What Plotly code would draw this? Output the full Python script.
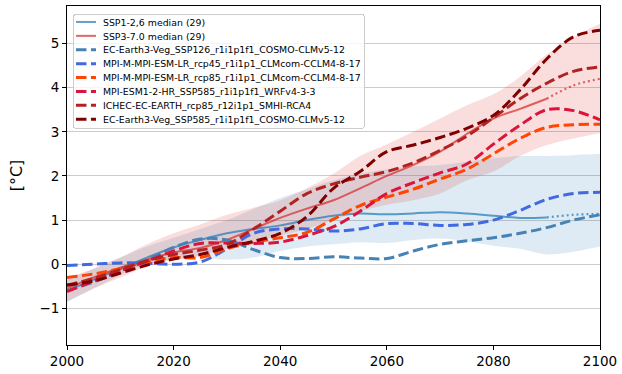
import plotly.graph_objects as go

years = list(range(2000, 2101, 5))

# Ensemble medians
ssp126_median = [-0.6, -0.35, -0.1, 0.15, 0.38, 0.55, 0.7, 0.8, 0.88, 1.0, 1.1, 1.15, 1.13, 1.15, 1.18, 1.15, 1.1, 1.05, 1.06, 1.12, 1.14]
ssp370_median = [-0.55, -0.3, -0.08, 0.1, 0.27, 0.37, 0.55, 0.8, 1.05, 1.26, 1.45, 1.72, 2.0, 2.25, 2.55, 2.95, 3.3, 3.52, 3.75, 4.05, 4.2]
median_cut_year = 2090

# Ensemble ranges
ssp126_low = [-0.85, -0.55, -0.25, 0.0, 0.12, 0.15, 0.1, 0.15, 0.3, 0.4, 0.45, 0.5, 0.48, 0.55, 0.58, 0.52, 0.42, 0.35, 0.22, 0.28, 0.4]
ssp126_high = [-0.35, -0.1, 0.15, 0.4, 0.6, 0.8, 1.0, 1.25, 1.5, 1.7, 1.9, 2.05, 2.15, 2.22, 2.25, 2.32, 2.4, 2.45, 2.45, 2.47, 2.5]
ssp370_low = [-0.85, -0.55, -0.3, -0.05, 0.1, 0.2, 0.35, 0.5, 0.65, 0.8, 1.0, 1.2, 1.35, 1.45, 1.6, 1.9, 2.1, 2.45, 2.7, 2.85, 2.97]
ssp370_high = [-0.3, -0.1, 0.15, 0.45, 0.7, 0.9, 1.12, 1.28, 1.45, 1.72, 2.05, 2.45, 2.72, 3.0, 3.3, 3.6, 3.85, 4.25, 4.75, 5.15, 5.45]

# Individual simulations
model_names = [
    "EC-Earth3-Veg_SSP126_r1i1p1f1_COSMO-CLMv5-12",
    "MPI-M-MPI-ESM-LR_rcp45_r1i1p1_CLMcom-CCLM4-8-17",
    "MPI-M-MPI-ESM-LR_rcp85_r1i1p1_CLMcom-CCLM4-8-17",
    "MPI-ESM1-2-HR_SSP585_r1i1p1f1_WRFv4-3-3",
    "ICHEC-EC-EARTH_rcp85_r12i1p1_SMHI-RCA4",
    "EC-Earth3-Veg_SSP585_r1i1p1f1_COSMO-CLMv5-12",
]
ec_earth_ssp126 = [-0.6, -0.4, -0.15, 0.1, 0.38, 0.57, 0.55, 0.33, 0.15, 0.13, 0.17, 0.14, 0.13, 0.3, 0.45, 0.53, 0.6, 0.7, 0.83, 1.0, 1.12]
mpi_lr_rcp45 = [-0.03, 0.0, 0.03, 0.02, 0.0, 0.05, 0.35, 0.7, 0.8, 0.8, 0.75, 0.8, 0.92, 0.92, 0.88, 0.9, 1.0, 1.22, 1.47, 1.6, 1.63]
mpi_lr_rcp85 = [-0.3, -0.22, -0.1, 0.05, 0.15, 0.15, 0.35, 0.5, 0.6, 0.72, 1.02, 1.33, 1.52, 1.7, 1.93, 2.15, 2.5, 2.85, 3.1, 3.16, 3.17]
mpi_hr_ssp585 = [-0.62, -0.38, -0.15, 0.07, 0.3, 0.47, 0.48, 0.47, 0.5, 0.65, 0.85, 1.2, 1.6, 1.85, 2.07, 2.27, 2.72, 3.15, 3.5, 3.48, 3.27]
ichec_rcp85 = [-0.48, -0.32, -0.12, 0.08, 0.22, 0.32, 0.45, 0.8, 1.2, 1.6, 1.82, 1.97, 2.1, 2.3, 2.58, 2.9, 3.32, 3.75, 4.1, 4.37, 4.47]
ec_earth_ssp585 = [-0.47, -0.38, -0.2, -0.02, 0.12, 0.22, 0.38, 0.52, 0.7, 1.08, 1.72, 2.1, 2.55, 2.7, 2.87, 3.08, 3.37, 3.95, 4.65, 5.15, 5.3]
model_values = [ec_earth_ssp126, mpi_lr_rcp45, mpi_lr_rcp85, mpi_hr_ssp585, ichec_rcp85, ec_earth_ssp585]
model_colors = ["#4682b4", "#4169e1", "#ff4500", "#dc143c", "#b22222", "#800000"]

x_ticks = [2000, 2020, 2040, 2060, 2080, 2100]
y_ticks = [-1, 0, 1, 2, 3, 4, 5]

blue_line = "rgba(31,119,180,0.7)"
red_line = "rgba(214,39,40,0.7)"
blue_fill = "rgba(31,119,180,0.15)"
red_fill = "rgba(225,45,45,0.16)"

fig = go.Figure()

# Bands
for low, high, col in [(ssp126_low, ssp126_high, blue_fill), (ssp370_low, ssp370_high, red_fill)]:
    fig.add_trace(go.Scatter(x=years, y=low, mode="lines", line=dict(width=0, shape="spline"),
                             showlegend=False, hoverinfo="skip"))
    fig.add_trace(go.Scatter(x=years, y=high, mode="lines", line=dict(width=0, shape="spline"),
                             fill="tonexty", fillcolor=col, showlegend=False, hoverinfo="skip"))

# Medians (solid until cut year, dotted afterwards)
for name, vals, col in [("SSP1-2,6 median (29)", ssp126_median, blue_line),
                        ("SSP3-7.0 median (29)", ssp370_median, red_line)]:
    xs = [y for y in years if y <= median_cut_year]
    ys = [v for y, v in zip(years, vals) if y <= median_cut_year]
    xd = [y for y in years if y >= median_cut_year]
    yd = [v for y, v in zip(years, vals) if y >= median_cut_year]
    fig.add_trace(go.Scatter(x=xs, y=ys, mode="lines", name=name,
                             line=dict(color=col, width=2, shape="spline")))
    fig.add_trace(go.Scatter(x=xd, y=yd, mode="lines", showlegend=False,
                             line=dict(color=col, width=2.2, dash="2px,3px", shape="spline")))

for name, vals, col in zip(model_names, model_values, model_colors):
    fig.add_trace(go.Scatter(x=years, y=vals, mode="lines", name=name,
                             line=dict(color=col, width=3, dash="10.5px,4.5px", shape="spline")))

fig.update_layout(
    width=622, height=374,
    margin=dict(l=67, r=20, t=5, b=28),
    paper_bgcolor="white", plot_bgcolor="white",
    font=dict(family="DejaVu Sans", size=13.5, color="black"),
    showlegend=True,
    hovermode=False,
    legend=dict(x=0.0112, y=0.9765, xanchor="left", yanchor="top", traceorder="normal",
                bgcolor="rgba(255,255,255,0.8)", bordercolor="#cccccc", borderwidth=1,
                font=dict(size=9.4), tracegroupgap=0, itemwidth=30),
)
fig.update_xaxes(range=[2000, 2100], tickvals=x_ticks, showgrid=False, zeroline=False,
                 showline=True, linecolor="black", linewidth=1, mirror=True,
                 ticks="outside", ticklen=4, tickcolor="black")
fig.update_yaxes(range=[-1.83, 5.85], tickvals=y_ticks, showgrid=True, gridcolor="#cccccc",
                 gridwidth=1.2, zeroline=False,
                 showline=True, linecolor="black", linewidth=1, mirror=True,
                 ticks="outside", ticklen=4, tickcolor="black",
                 title=dict(text="[°C]", standoff=12))

post_js = """
document.body.style.margin = '0';
try {
  var gd = document.getElementById('{plot_id}');
  var lg = gd.querySelector('g.legend');
  var items = lg.querySelectorAll('g.traces');
  for (var i = 0; i < items.length; i++) {
    var it = items[i];
    var tr = it.getAttribute('transform') || '';
    var m = /translate\\(\\s*([-\\d.]+)/.exec(tr);
    var x0 = m ? parseFloat(m[1]) : 1;
    it.setAttribute('transform', 'translate(' + x0 + ',' + (8 + 13.9 * i) + ')');
    var t = it.querySelector('text.legendtext');
    if (t) { t.setAttribute('x', 29); }
    it.querySelectorAll('path.js-line').forEach(function(p) { p.setAttribute('d', 'M2,0h20'); });
  }
  var bg = lg.querySelector('rect.bg');
  bg.setAttribute('height', 114);
  bg.setAttribute('width', 291);
  bg.setAttribute('rx', 3);
  bg.setAttribute('ry', 3);
} catch (e) {}
"""

fig.write_html("out.html", config={"responsive": False, "displayModeBar": False}, post_script=post_js)
